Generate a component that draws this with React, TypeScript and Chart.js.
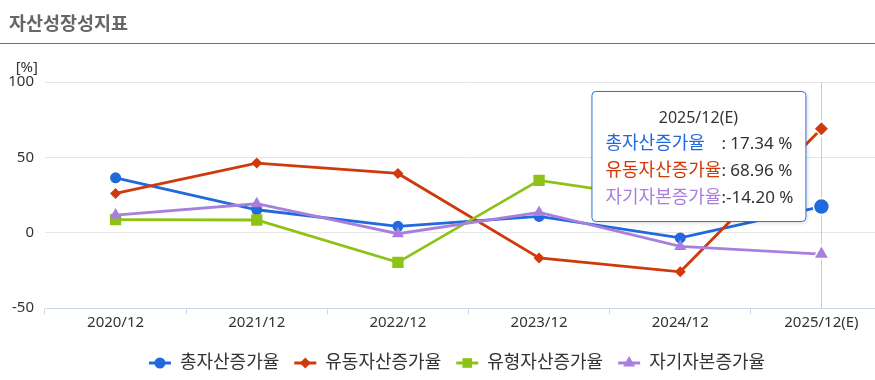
import React, { useEffect, useRef } from 'react';
import { Chart, registerables } from 'chart.js';

Chart.register(...registerables);

const FONT = "'Noto Sans', 'Noto Sans CJK KR', sans-serif";

const chartTitle = '자산성장성지표';
const unitLabel = '[%]';
const categories = ['2020/12', '2021/12', '2022/12', '2023/12', '2024/12', '2025/12(E)'];
const seriesNames = ['총자산증가율', '유동자산증가율', '유형자산증가율', '자기자본증가율'];
const totalAssetGrowth = [36.4, 15.2, 4.2, 10.8, -3.5, 17.34];
const currentAssetGrowth = [26.0, 46.2, 39.3, -16.8, -26.0, 68.96];
const tangibleAssetGrowth: (number | null)[] = [8.6, 8.4, -19.7, 34.7, 21.0, null];
const equityGrowth = [11.7, 19.2, -0.7, 13.4, -9.1, -14.2];
const yMin = -50;
const yMax = 100;
const yStep = 50;
const hoverIndex = 5;

const seriesData = [totalAssetGrowth, currentAssetGrowth, tangibleAssetGrowth, equityGrowth];
const colors = ['#2169dd', '#d03a0b', '#8cc316', '#a97fde'];
const pointStyles = ['circle', 'rectRot', 'rect', 'triangle'];
const baseRadius = [5.5, 5.5, 8, 7];
const hoverRadius = [8, 7.5, 10, 9];

function drawMarker(ctx: CanvasRenderingContext2D, style: string, x: number, y: number, r: number, color: string) {
  ctx.save();
  ctx.fillStyle = color;
  ctx.beginPath();
  if (style === 'circle') {
    ctx.arc(x, y, r, 0, Math.PI * 2);
  } else if (style === 'rectRot') {
    ctx.moveTo(x, y - r);
    ctx.lineTo(x + r, y);
    ctx.lineTo(x, y + r);
    ctx.lineTo(x - r, y);
    ctx.closePath();
  } else if (style === 'rect') {
    const s = r * Math.SQRT1_2;
    ctx.rect(x - s, y - s, 2 * s, 2 * s);
  } else {
    const h = Math.sin(Math.PI / 3) * r;
    ctx.moveTo(x, y - r);
    ctx.lineTo(x + h, y + r * 0.5);
    ctx.lineTo(x - h, y + r * 0.5);
    ctx.closePath();
  }
  ctx.fill();
  ctx.restore();
}

const decorPlugin = {
  id: 'decor',
  beforeDatasetsDraw(chart: any) {
    const { ctx, chartArea } = chart;
    const x = chart.scales.x.getPixelForValue(hoverIndex);
    ctx.save();
    ctx.strokeStyle = '#cccccc';
    ctx.lineWidth = 1;
    ctx.beginPath();
    ctx.moveTo(Math.round(x) + 0.5, chartArea.top);
    ctx.lineTo(Math.round(x) + 0.5, chartArea.bottom);
    ctx.stroke();
    ctx.restore();
  },
  afterDraw(chart: any) {
    const { ctx, chartArea, width } = chart;
    ctx.save();
    // title
    ctx.font = `bold 18.5px ${FONT}`;
    ctx.fillStyle = '#666666';
    ctx.textAlign = 'left';
    ctx.textBaseline = 'middle';
    ctx.fillText(chartTitle, 9, 25);
    ctx.strokeStyle = '#707070';
    ctx.lineWidth = 1;
    ctx.beginPath();
    ctx.moveTo(0, 43.5);
    ctx.lineTo(width, 43.5);
    ctx.stroke();

    // unit label
    ctx.font = `15px ${FONT}`;
    ctx.fillStyle = '#333333';
    ctx.textAlign = 'right';
    ctx.fillText(unitLabel, 38, chartArea.top - 14);

    // legend
    ctx.font = `18px ${FONT}`;
    const symW = 22;
    const gapText = 9;
    const gapItem = 15;
    const widths = seriesNames.map((n) => ctx.measureText(n).width);
    const total = widths.reduce((a, w) => a + symW + gapText + w, 0) + gapItem * (seriesNames.length - 1);
    let lx = width / 2 - total / 2;
    const ly = 363;
    seriesNames.forEach((n, i) => {
      ctx.strokeStyle = colors[i];
      ctx.lineWidth = 3;
      ctx.beginPath();
      ctx.moveTo(lx, ly);
      ctx.lineTo(lx + symW, ly);
      ctx.stroke();
      drawMarker(ctx, pointStyles[i], lx + symW / 2, ly, baseRadius[i] * (i === 2 ? 0.85 : 1), colors[i]);
      ctx.fillStyle = '#333333';
      ctx.textAlign = 'left';
      ctx.textBaseline = 'middle';
      ctx.fillText(n, lx + symW + gapText, ly);
      lx += symW + gapText + widths[i] + gapItem;
    });

    // tooltip
    const px = chart.scales.x.getPixelForValue(hoverIndex);
    const rows = seriesData
      .map((d, i) => ({ v: d[hoverIndex], i }))
      .filter((r) => r.v !== null && r.v !== undefined) as { v: number; i: number }[];
    const nameFont = `18px ${FONT}`;
    const valFont = `17px ${FONT}`;
    ctx.font = nameFont;
    const nameW = Math.max(...rows.map((r) => ctx.measureText(seriesNames[r.i]).width));
    ctx.font = valFont;
    const valTexts = rows.map((r) => (r.v < 0 ? ':' : ': ') + r.v.toFixed(2) + ' %');
    const valW = Math.max(...valTexts.map((t) => ctx.measureText(t).width));
    const padL = 14;
    const padR = 12;
    const boxW = padL + nameW + valW + padR;
    const boxH = 130;
    const boxR = px - 16;
    const boxL = boxR - boxW;
    const boxT = chartArea.top + 9;
    ctx.shadowColor = 'rgba(0,0,0,0.18)';
    ctx.shadowBlur = 4;
    ctx.shadowOffsetX = 1;
    ctx.shadowOffsetY = 1;
    ctx.fillStyle = '#ffffff';
    ctx.beginPath();
    ctx.roundRect(boxL + 0.5, boxT + 0.5, boxW, boxH, 4);
    ctx.fill();
    ctx.shadowColor = 'transparent';
    ctx.strokeStyle = '#2f74e0';
    ctx.lineWidth = 1;
    ctx.stroke();

    ctx.font = `16px ${FONT}`;
    ctx.fillStyle = '#333333';
    ctx.textAlign = 'center';
    ctx.textBaseline = 'middle';
    ctx.fillText(categories[hoverIndex], boxL + boxW / 2, boxT + 27);
    ctx.textAlign = 'left';
    rows.forEach((r, k) => {
      const y = boxT + 53 + k * 27;
      ctx.font = nameFont;
      ctx.fillStyle = colors[r.i];
      ctx.fillText(seriesNames[r.i], boxL + padL, y);
      ctx.font = valFont;
      ctx.fillStyle = '#333333';
      ctx.fillText(valTexts[k], boxL + padL + nameW, y);
    });
    ctx.restore();
  },
};

export default function App() {
  const ref = useRef<HTMLCanvasElement>(null);
  useEffect(() => {
    if (!ref.current) return;
    Chart.defaults.font.family = FONT;
    const chart = new Chart(ref.current, {
      type: 'line',
      data: {
        labels: categories,
        datasets: seriesData.map((d, i) => ({
          label: seriesNames[i],
          data: d,
          borderColor: colors[i],
          backgroundColor: colors[i],
          borderWidth: 2.8,
          pointStyle: pointStyles[i] as any,
          pointRadius: (c: any) => (c.dataIndex === hoverIndex ? hoverRadius[i] : baseRadius[i]),
          pointBorderWidth: (c: any) => (c.dataIndex === hoverIndex ? 1.5 : 0),
          pointBorderColor: (c: any) => (c.dataIndex === hoverIndex ? '#ffffff' : colors[i]),
          tension: 0,
          spanGaps: false,
          order: 3 - i,
        })),
      },
      options: {
        responsive: false,
        animation: false,
        events: [],
        layout: { padding: { top: 82, left: 0, right: 22, bottom: 42 } },
        plugins: { legend: { display: false }, tooltip: { enabled: false }, title: { display: false } },
        scales: {
          x: {
            offset: true,
            grid: {
              offset: true,
              drawOnChartArea: false,
              drawTicks: true,
              tickLength: 6,
              color: '#ccd6eb',
            },
            border: { color: '#ccd6eb', width: 1 },
            ticks: { color: '#333333', font: { size: 15 }, padding: 0, maxRotation: 0, autoSkip: false },
            afterFit: (s: any) => {
              s.height = 30;
            },
          },
          y: {
            min: yMin,
            max: yMax,
            ticks: { stepSize: yStep, color: '#333333', font: { size: 15 }, padding: 11 },
            grid: { color: '#e6e6e6', drawTicks: false },
            border: { display: false },
            afterFit: (s: any) => {
              s.width = 45;
            },
          },
        },
      },
      plugins: [decorPlugin],
    });
    return () => chart.destroy();
  }, []);
  return (
    <div style={{ position: 'fixed', left: 0, top: 0, width: 875, height: 380, overflow: 'hidden', background: '#fff' }}>
      <canvas ref={ref} width={914} height={380} style={{ position: 'absolute', left: 0, top: 0 }} />
    </div>
  );
}
